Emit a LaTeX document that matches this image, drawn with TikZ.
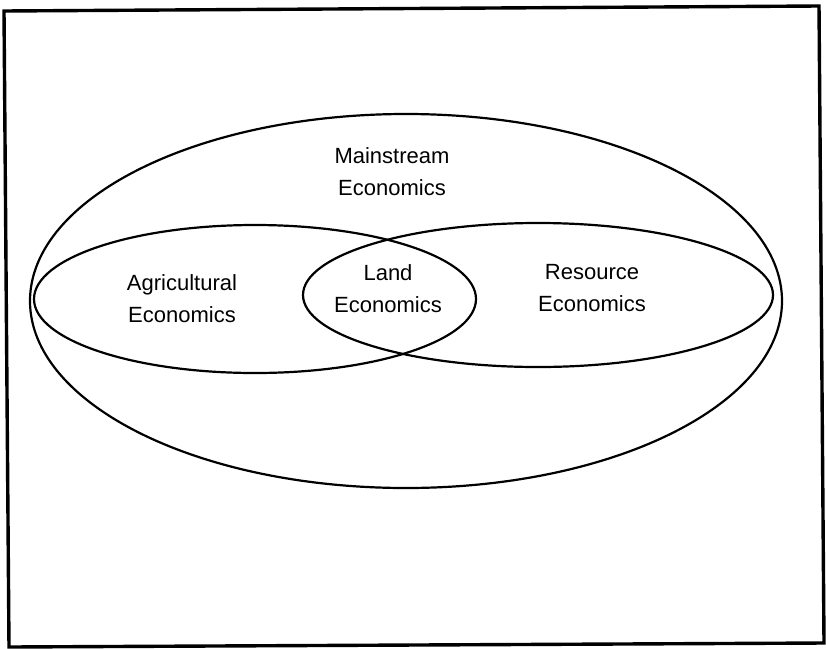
\documentclass[tikz,border=0pt]{standalone}
\usepackage{fontspec}
\setmainfont{Liberation Sans}
\begin{document}
\begin{tikzpicture}[x=1pt,y=-1pt,
  field/.style={draw=black,line width=2.2pt},
  lbl/.style={align=center,font=\fontsize{22}{32}\selectfont,inner sep=0pt}]
\useasboundingbox (0,0) rectangle (826,648);
% outer frame
\coordinate (tl) at (4,11);
\coordinate (tr) at (819,6);
\coordinate (br) at (824,643);
\coordinate (bl) at (9,647);
\draw[line width=3.4pt,line join=miter] (tl) -- (tr) -- (br) -- (bl) -- cycle;
% fields of economics
\draw[field] (406,301) ellipse [x radius=376, y radius=187];
\draw[field] (255,299) ellipse [x radius=221, y radius=74];
\draw[field] (538,295) ellipse [x radius=235, y radius=72];
% labels
\node[lbl] (main) at (392,172) {Mainstream\\Economics};
\node[lbl] (agri) at (182,299) {Agricultural\\Economics};
\node[lbl] (land) at (388,289) {Land\\Economics};
\node[lbl] (res) at (592,288) {Resource\\Economics};
\end{tikzpicture}
\end{document}
